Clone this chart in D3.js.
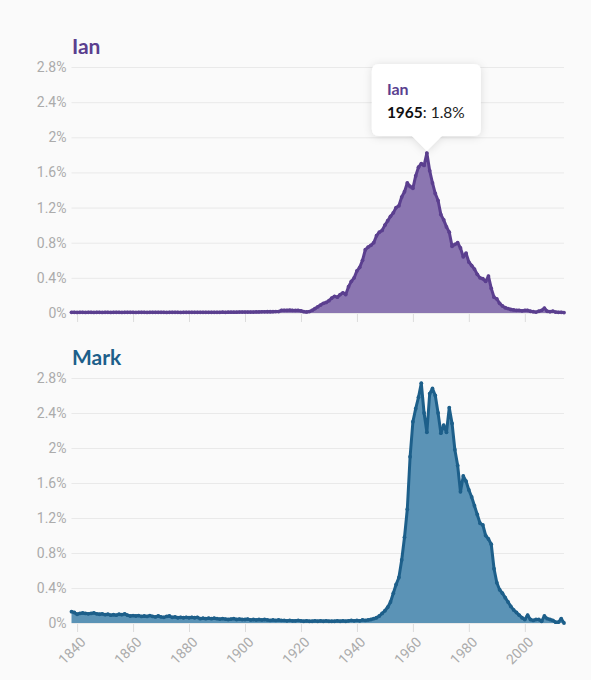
<!DOCTYPE html>
<html>
<head>
<meta charset="utf-8">
<script src="https://cdn.jsdelivr.net/npm/d3@7"></script>
<style>
  html, body { margin: 0; padding: 0; background: #fafafa; }
  #chart { width: 591px; height: 680px; }
</style>
</head>
<body>
<div id="chart"></div>
<script>
/* Name popularity — two small-multiple area charts (Ian, Mark) */

// --- Data (share of births, %) ---
var firstYear = 1838;
var lastYear = 2014;

var ianValues = [
  // 1838-1849
  0.008, 0.008, 0.007, 0.008, 0.008, 0.007, 0.008, 0.008, 0.007, 0.008, 0.008, 0.007,
  // 1850-1859
  0.008, 0.008, 0.007, 0.008, 0.008, 0.008, 0.007, 0.008, 0.008, 0.008,
  // 1860-1869
  0.008, 0.007, 0.008, 0.008, 0.008, 0.007, 0.008, 0.008, 0.008, 0.008,
  // 1870-1879
  0.008, 0.008, 0.007, 0.008, 0.008, 0.008, 0.008, 0.007, 0.008, 0.008,
  // 1880-1889
  0.008, 0.008, 0.008, 0.008, 0.008, 0.008, 0.008, 0.008, 0.008, 0.008,
  // 1890-1899
  0.008, 0.008, 0.009, 0.008, 0.009, 0.009, 0.009, 0.009, 0.01, 0.01,
  // 1900-1909
  0.01, 0.01, 0.011, 0.011, 0.012, 0.012, 0.013, 0.013, 0.014, 0.014,
  // 1910-1919
  0.015, 0.016, 0.016, 0.03, 0.031, 0.03, 0.032, 0.03, 0.029, 0.03,
  // 1920-1929
  0.025, 0.015, 0.012, 0.016, 0.03, 0.05, 0.07, 0.09, 0.11, 0.12,
  // 1930-1939
  0.14, 0.17, 0.19, 0.18, 0.21, 0.23, 0.21, 0.30, 0.36, 0.40,
  // 1940-1949
  0.48, 0.52, 0.60, 0.72, 0.75, 0.77, 0.80, 0.88, 0.92, 0.94,
  // 1950-1959
  1.00, 1.05, 1.10, 1.14, 1.20, 1.22, 1.32, 1.38, 1.48, 1.44,
  // 1960-1969
  1.42, 1.56, 1.66, 1.70, 1.68, 1.82, 1.62, 1.48, 1.36, 1.28,
  // 1970-1979
  1.12, 1.06, 0.98, 0.92, 0.76, 0.78, 0.80, 0.74, 0.64, 0.68,
  // 1980-1989
  0.58, 0.54, 0.50, 0.44, 0.40, 0.39, 0.36, 0.42, 0.28, 0.18,
  // 1990-1999
  0.16, 0.11, 0.08, 0.06, 0.05, 0.04, 0.035, 0.03, 0.03, 0.025,
  // 2000-2009
  0.03, 0.03, 0.02, 0.015, 0.01, 0.02, 0.03, 0.055, 0.02, 0.015,
  // 2010-2014
  0.02, 0.01, 0.008, 0.008, 0.005
];

var markValues = [
  // 1838-1849
  0.13, 0.12, 0.10, 0.11, 0.115, 0.11, 0.105, 0.11, 0.115, 0.105, 0.10, 0.105,
  // 1850-1859
  0.095, 0.10, 0.09, 0.095, 0.09, 0.10, 0.095, 0.105, 0.09, 0.08,
  // 1860-1869
  0.085, 0.08, 0.085, 0.075, 0.08, 0.075, 0.085, 0.075, 0.07, 0.08,
  // 1870-1879
  0.07, 0.065, 0.075, 0.08, 0.065, 0.07, 0.06, 0.065, 0.06, 0.065,
  // 1880-1889
  0.06, 0.065, 0.06, 0.065, 0.05, 0.055, 0.05, 0.055, 0.05, 0.055,
  // 1890-1899
  0.05, 0.045, 0.05, 0.045, 0.04, 0.045, 0.05, 0.04, 0.045, 0.04,
  // 1900-1909
  0.04, 0.045, 0.035, 0.04, 0.035, 0.04, 0.035, 0.04, 0.035, 0.03,
  // 1910-1919
  0.035, 0.03, 0.035, 0.03, 0.03, 0.025, 0.03, 0.025, 0.025, 0.03,
  // 1920-1929
  0.025, 0.02, 0.025, 0.02, 0.02, 0.025, 0.02, 0.025, 0.02, 0.025,
  // 1930-1939
  0.02, 0.02, 0.02, 0.025, 0.02, 0.025, 0.02, 0.025, 0.03, 0.025,
  // 1940-1949
  0.03, 0.025, 0.035, 0.03, 0.035, 0.04, 0.05, 0.06, 0.08, 0.11,
  // 1950-1959
  0.14, 0.18, 0.24, 0.34, 0.44, 0.52, 0.72, 0.98, 1.30, 1.90,
  // 1960-1969
  2.30, 2.45, 2.58, 2.74, 2.40, 2.18, 2.62, 2.68, 2.60, 2.40,
  // 1970-1979
  2.17, 2.26, 2.18, 2.46, 2.28, 1.98, 1.80, 1.50, 1.68, 1.62,
  // 1980-1989
  1.52, 1.44, 1.34, 1.24, 1.14, 1.12, 1.00, 0.96, 0.90, 0.62,
  // 1990-1999
  0.46, 0.38, 0.34, 0.29, 0.24, 0.19, 0.15, 0.12, 0.09, 0.06,
  // 2000-2009
  0.04, 0.09, 0.04, 0.03, 0.04, 0.04, 0.02, 0.08, 0.05, 0.04,
  // 2010-2014
  0.03, 0.01, 0.01, 0.05, 0.0
];

var yTicks = [0, 0.4, 0.8, 1.2, 1.6, 2, 2.4, 2.8];
var xTicks = [1840, 1860, 1880, 1900, 1920, 1940, 1960, 1980, 2000];

var tooltipYear = 1965;

// --- Theme ---
var colors = {
  ian:   { line: '#5b3f8f', fill: '#8b76b1' },
  mark:  { line: '#1d5f8a', fill: '#5b93b6' },
  grid:  '#e9e9e9',
  tick:  '#dcdcdc',
  label: '#ababab',
  bg:    '#fafafa'
};

var axisFont = 'Roboto, "Noto Sans", sans-serif';
var titleFont = 'Lato, "Source Sans Pro", "Noto Sans", sans-serif';

var width = 591, height = 680;

var svg = d3.select('#chart').append('svg')
  .attr('width', width)
  .attr('height', height)
  .style('background', colors.bg);

var defs = svg.append('defs');
var shadow = defs.append('filter')
  .attr('id', 'tip-shadow')
  .attr('x', '-30%').attr('y', '-30%')
  .attr('width', '160%').attr('height', '170%');
shadow.append('feDropShadow')
  .attr('dx', 0).attr('dy', 1)
  .attr('stdDeviation', 4)
  .attr('flood-color', '#000')
  .attr('flood-opacity', 0.12);

var x = d3.scaleLinear()
  .domain([firstYear, lastYear])
  .range([71.5, 564]);

function toSeries(values) {
  return values.map(function (v, i) { return { year: firstYear + i, value: v }; });
}

// --- One panel per name ---
function drawPanel(opts) {
  var data = toSeries(opts.values);
  var y = d3.scaleLinear().domain([0, 2.8]).range([opts.bottom, opts.top]);
  var g = svg.append('g');

  // Title
  g.append('text')
    .attr('x', 72)
    .attr('y', opts.top - 13)
    .attr('font-family', titleFont)
    .attr('font-size', '21px')
    .attr('font-weight', 700)
    .attr('fill', opts.color.line)
    .text(opts.name);

  // Y axis + grid
  var yAxis = d3.axisLeft(y)
    .tickValues(yTicks)
    .tickSize(-(x.range()[1] - x.range()[0]))
    .tickPadding(5)
    .tickFormat(function (d) { return d3.format('~g')(d) + '%'; });

  var yg = g.append('g')
    .attr('transform', 'translate(' + x.range()[0] + ',0)')
    .call(yAxis);
  yg.select('.domain').remove();
  yg.selectAll('.tick line').attr('stroke', colors.grid).attr('stroke-width', 1);
  yg.selectAll('.tick text')
    .attr('fill', colors.label)
    .attr('font-family', axisFont)
    .attr('font-size', '14px');

  // X axis ticks
  var xAxis = d3.axisBottom(x)
    .tickValues(xTicks)
    .tickSize(8)
    .tickPadding(4)
    .tickFormat(opts.showX ? d3.format('d') : '');

  var xg = g.append('g')
    .attr('transform', 'translate(0,' + (opts.bottom + 1) + ')')
    .call(xAxis);
  xg.select('.domain').remove();
  xg.selectAll('.tick line').attr('stroke', colors.tick);
  xg.selectAll('.tick text')
    .attr('fill', colors.label)
    .attr('font-family', axisFont)
    .attr('font-size', '14px')
    .attr('text-anchor', 'end')
    .attr('x', 0)
    .attr('y', 0)
    .attr('dy', 0)
    .attr('transform', 'translate(9,19) rotate(-45)');

  // Area + line
  var area = d3.area()
    .x(function (d) { return x(d.year); })
    .y0(y(0))
    .y1(function (d) { return y(d.value); });

  var line = d3.line()
    .x(function (d) { return x(d.year); })
    .y(function (d) { return y(d.value); });

  g.append('path')
    .datum(data)
    .attr('d', area)
    .attr('fill', opts.color.fill);

  g.append('path')
    .datum(data)
    .attr('d', line)
    .attr('fill', 'none')
    .attr('stroke', opts.color.line)
    .attr('stroke-width', 3)
    .attr('stroke-linejoin', 'round');

  g.append('g')
    .selectAll('circle')
    .data(data)
    .join('circle')
    .attr('cx', function (d) { return x(d.year); })
    .attr('cy', function (d) { return y(d.value); })
    .attr('r', 1.9)
    .attr('fill', opts.color.line);

  return { y: y, data: data, g: g };
}

var ian = drawPanel({ name: 'Ian', values: ianValues, color: colors.ian, top: 67, bottom: 313, showX: false });
var mark = drawPanel({ name: 'Mark', values: markValues, color: colors.mark, top: 378, bottom: 623, showX: true });

// --- Tooltip on Ian at 1965 ---
(function () {
  var d = ian.data.filter(function (p) { return p.year === tooltipYear; })[0];
  var px = x(d.year);
  var py = ian.y(d.value);
  var boxW = 109, boxH = 72, arrow = 15, gap = 2;
  var bx = px - 55, by = py - gap - arrow - boxH;

  var tip = svg.append('g').attr('filter', 'url(#tip-shadow)');
  var r = 7;
  var path = [
    'M', bx + r, by,
    'H', bx + boxW - r,
    'Q', bx + boxW, by, bx + boxW, by + r,
    'V', by + boxH - r,
    'Q', bx + boxW, by + boxH, bx + boxW - r, by + boxH,
    'H', px + arrow,
    'L', px, by + boxH + arrow,
    'L', px - arrow, by + boxH,
    'H', bx + r,
    'Q', bx, by + boxH, bx, by + boxH - r,
    'V', by + r,
    'Q', bx, by, bx + r, by, 'Z'
  ].join(' ');
  tip.append('path').attr('d', path).attr('fill', '#fff');

  svg.append('text')
    .attr('x', bx + 15)
    .attr('y', by + 31)
    .attr('font-family', titleFont)
    .attr('font-size', '16px')
    .attr('font-weight', 700)
    .attr('fill', colors.ian.line)
    .text('Ian');

  var t = svg.append('text')
    .attr('x', bx + 15)
    .attr('y', by + 54)
    .attr('font-family', titleFont)
    .attr('font-size', '15.5px')
    .attr('fill', '#222');
  t.append('tspan').attr('font-weight', 700).attr('fill', '#111').text(d.year);
  t.append('tspan').text(': ' + d3.format('.1f')(d.value) + '%');
})();
</script>
</body>
</html>
